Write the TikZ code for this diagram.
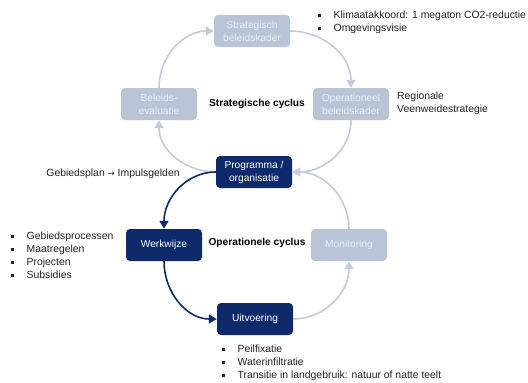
\documentclass[tikz,border=0pt]{standalone}
\usepackage{fontspec}
\setmainfont{Liberation Sans}
\usetikzlibrary{arrows.meta}
\definecolor{lightbox}{HTML}{BAC4D7}
\definecolor{lightline}{HTML}{C3CCDD}
\definecolor{lighttext}{HTML}{EBEEF4}
\definecolor{navy}{HTML}{0E2A6A}
\definecolor{txt}{HTML}{222222}
\tikzset{
  box/.style={minimum width=76pt, minimum height=32pt, rounded corners=4pt, align=center, inner sep=1pt, font=\fontsize{10.2}{13}\selectfont},
  lbox/.style={box, fill=lightbox, text=lighttext},
  dbox/.style={box, fill=navy, text=white},
  larr/.style={draw=lightline, line width=1.6pt, -{Triangle[length=8pt,width=9pt]}},
  darr/.style={draw=navy, line width=1.6pt, -{Triangle[length=8pt,width=9pt]}},
  lbl/.style={text=txt, font=\fontsize{10.4}{13}\selectfont, inner sep=0pt},
  blist/.style={text=txt, font=\fontsize{10.4}{13}\selectfont, inner sep=0pt, align=left},
  cyc/.style={text=black, font=\bfseries\fontsize{10.2}{12}\selectfont, inner sep=0pt}
}
\newcommand{\bul}{\makebox[15.5pt][l]{\rule[1.5pt]{3pt}{3pt}}}
\begin{document}
\begin{tikzpicture}[x=1pt,y=-1pt]
\useasboundingbox (0,0) rectangle (528,383);
\fill[white] (0,0) rectangle (528,383);
% nodes
\node[lbox] (strat) at (252,31) {Strategisch\\beleidskader};
\node[lbox] (eval) at (159,104) {Beleids-\\evaluatie};
\node[lbox] (oper) at (351,104) {Operationeel\\beleidskader};
\node[dbox] (prog) at (254,172) {Programma /\\organisatie};
\node[dbox] (werk) at (164,245) {Werkwijze};
\node[lbox] (moni) at (349,245) {Monitoring};
\node[dbox] (uitv) at (255,319) {Uitvoering};
% cycle labels
\node[cyc] (sc) at (257,104) {Strategische cyclus};
\node[cyc] (oc) at (257,243) {Operationele cyclus};
% strategic cycle arrows
\draw[larr] (eval.north) to[out=90,in=180] (strat.west);
\draw[larr] (strat.east) to[out=0,in=90] (oper.north);
\draw[larr] (oper.south) to[out=-90,in=0] (prog.east);
\draw[larr] (prog.west) to[out=180,in=-90] (eval.south);
% operational cycle arrows
\draw[larr] (moni.north) to[out=90,in=0] (prog.east);
\draw[larr] (uitv.east) to[out=0,in=-90] (moni.south);
\draw[darr] (prog.west) to[out=180,in=90] (werk.north);
\draw[darr] (werk.south) to[out=-90,in=180] (uitv.west);
% annotations
\node[blist, anchor=north west] (tr) at (318,11) {\bul Klimaatakkoord: 1 megaton CO2-reductie\\\bul Omgevingsvisie};
\node[blist, anchor=west] (reg) at (397,103) {Regionale\\Veenweidestrategie};
\node[lbl] (gp) at (113,174) {Gebiedsplan {\fontspec{DejaVu Sans}\fontsize{8.5}{10}\selectfont→} Impulsgelden};
\node[blist, anchor=north west] (lf) at (11,232) {\bul Gebiedsprocessen\\\bul Maatregelen\\\bul Projecten\\\bul Subsidies};
\node[blist, anchor=north west] (bt) at (222,345) {\bul Peilfixatie\\\bul Waterinfiltratie\\\bul Transitie in landgebruik: natuur of natte teelt};
\end{tikzpicture}
\end{document}
